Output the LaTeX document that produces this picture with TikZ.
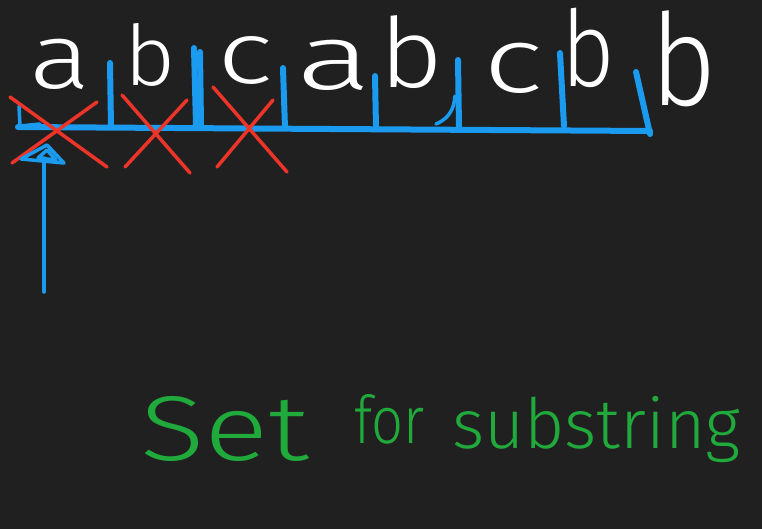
\documentclass[tikz,border=0pt]{standalone}
\usepackage{fontspec}
\newfontfamily\hand{Fira Sans Light}
\definecolor{bg}{RGB}{32,32,32}
\definecolor{penblue}{RGB}{26,155,240}
\definecolor{penred}{RGB}{236,52,40}
\definecolor{pengreen}{RGB}{32,170,60}
\tikzset{
  letter/.style={text=white, font=\hand\fontsize{88}{88}\selectfont, inner sep=0pt, anchor=base},
  greentext/.style={text=pengreen, inner sep=0pt, anchor=base west},
  bluepen/.style={draw=penblue, line width=6pt, line cap=round},
  thinblue/.style={draw=penblue, line width=3.5pt, line cap=round, line join=round},
  redpen/.style={draw=penred, line width=3.5pt, line cap=round},
}
\begin{document}
\begin{tikzpicture}[x=1pt,y=-1pt]
\fill[bg] (0,0) rectangle (762,529);
\useasboundingbox (0,0) rectangle (762,529);

% letters
\node[letter] (a1) at (60,89) {\scalebox{1.3}[1.05]{a}};
\node[letter] (b1) at (150,86) {\scalebox{1.0}[0.95]{b}};
\node[letter] (c1) at (245,84) {\scalebox{1.35}[1.0]{c}};
\node[letter] (a2) at (334,90) {\scalebox{1.6}[1.05]{a}};
\node[letter] (b2) at (411,88) {\scalebox{1.25}[1.1]{b}};
\node[letter] (c2) at (513,93) {\scalebox{1.45}[1.05]{c}};
\node[letter] (b3) at (588,87) {\scalebox{1.05}[1.2]{b}};
\node[letter] (b4) at (684,106) {\scalebox{1.3}[1.45]{b}};

% blue bracket
\draw[bluepen] (18,127) -- (330,129) -- (650,131);
\draw[thinblue] (19,106) -- (20,126) -- (40,124);
\draw[bluepen] (110,63) -- (111,127);
\draw[bluepen] (194,48) -- (196,125);
\draw[bluepen] (200,52) -- (201,125);
\draw[bluepen] (283,68) -- (285,128);
\draw[bluepen] (375,76) -- (376,128);
\draw[bluepen] (458,60) -- (459,128);
\draw[thinblue] (436,124) .. controls (450,118) and (454,108) .. (455,96);
\draw[bluepen] (560,53) -- (564,126);
\draw[bluepen] (636,72) -- (650,134);

% red crosses
\draw[redpen] (10,97) -- (107,167);
\draw[redpen] (97,102) -- (12,163);
\draw[redpen] (122,95) -- (190,173);
\draw[redpen] (187,100) -- (125,167);
\draw[redpen] (213,87) -- (287,172);
\draw[redpen] (273,100) -- (217,167);

% blue arrow
\coordinate (tail) at (44,292);
\coordinate (tip) at (47,145);
\draw[thinblue] (tail) -- (44,158);
\draw[thinblue] (tip) -- (21,159) -- (64,163) -- cycle;
\draw[thinblue] (47,150) -- (38,158) -- (56,160) -- cycle;

% green text
\node[greentext, font=\hand\fontsize{92}{92}\selectfont] (set) at (140,460) {\scalebox{1.3}[1]{Set}};
\node[greentext, font=\hand\fontsize{66}{66}\selectfont] (for) at (354,443) {\scalebox{0.85}[1]{for}};
\node[greentext, font=\hand\fontsize{66}{66}\selectfont] (sub) at (452,448) {\scalebox{1.05}[1.05]{substring}};
\end{tikzpicture}
\end{document}
